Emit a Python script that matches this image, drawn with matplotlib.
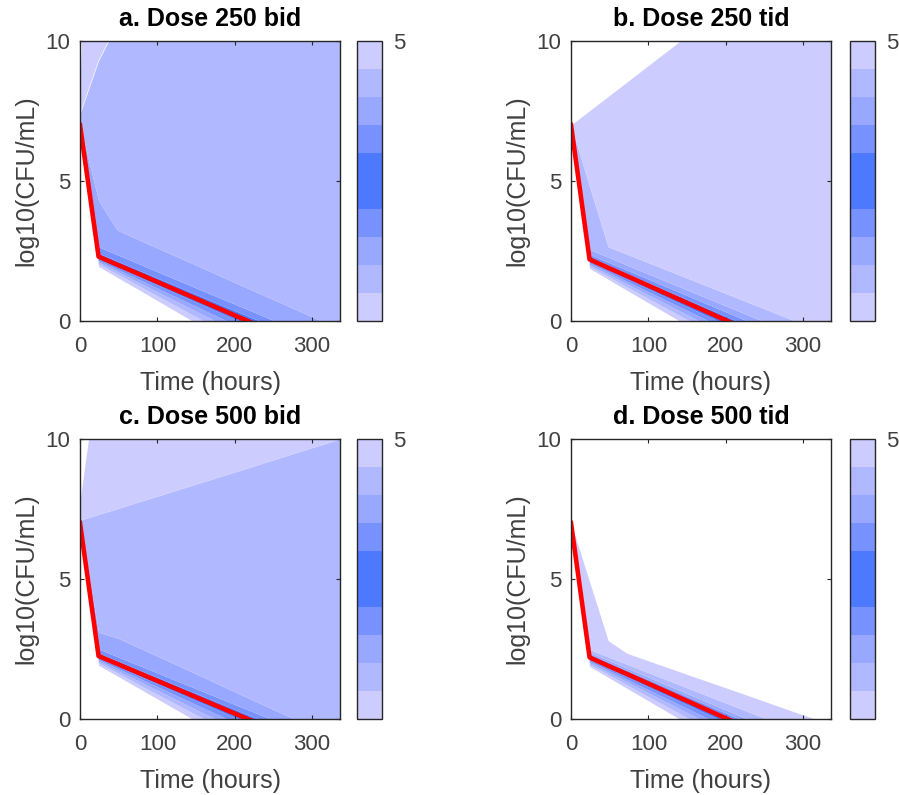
import matplotlib
matplotlib.use("Agg")
import matplotlib.pyplot as plt
from matplotlib.colors import ListedColormap, BoundaryNorm
from matplotlib.cm import ScalarMappable

plt.rcParams['font.family'] = ['Liberation Sans', 'DejaVu Sans']

# sampling times (hours)
times = [0, 24, 48, 72, 144, 216, 288, 336]

# quantile curves of log10(CFU/mL), rows = 0%,10%,...,100%
dose_250_bid = [
    [7, 1.95, 1.56, 1.18, 0.02, -1.14, -2.31, -3.08],
    [7, 2.04, 1.68, 1.32, 0.24, -0.84, -1.92, -2.64],
    [7, 2.10, 1.77, 1.43, 0.43, -0.57, -1.57, -2.24],
    [7, 2.16, 1.85, 1.54, 0.60, -0.34, -1.27, -1.90],
    [7, 2.22, 1.93, 1.63, 0.75, -0.13, -1.02, -1.60],
    [7, 2.30, 2.01, 1.73, 0.87, 0.01, -0.85, -1.42],
    [7, 2.42, 2.14, 1.86, 1.02, 0.19, -0.65, -1.21],
    [7, 2.65, 2.37, 2.09, 1.25, 0.42, -0.42, -0.98],
    [7, 4.30, 3.25, 2.95, 2.07, 1.18, 0.30, -0.30],
    [7.4, 9.3, 10.6, 12.0, 14.0, 16.0, 18.0, 20.0],
    [8.0, 25.0, 30.0, 32.0, 34.0, 36.0, 38.0, 40.0],
]
dose_250_tid = [
    [7, 1.88, 1.49, 1.10, -0.06, -1.23, -2.40, -3.18],
    [7, 1.95, 1.59, 1.22, 0.14, -0.95, -2.04, -2.77],
    [7, 2.01, 1.67, 1.33, 0.31, -0.71, -1.73, -2.41],
    [7, 2.07, 1.75, 1.42, 0.46, -0.51, -1.48, -2.12],
    [7, 2.13, 1.82, 1.51, 0.59, -0.33, -1.26, -1.87],
    [7, 2.20, 1.90, 1.61, 0.72, -0.17, -1.06, -1.66],
    [7, 2.28, 1.99, 1.70, 0.84, -0.02, -0.89, -1.46],
    [7, 2.38, 2.10, 1.82, 0.98, 0.14, -0.70, -1.26],
    [7, 2.55, 2.28, 2.00, 1.18, 0.36, -0.46, -1.00],
    [7, 4.80, 2.65, 2.39, 1.60, 0.81, 0.02, -0.50],
    [7, 7.51, 8.02, 8.53, 10.06, 11.6, 13.1, 14.1],
]
dose_500_bid = [
    [7, 1.92, 1.54, 1.16, 0.02, -1.13, -2.27, -3.03],
    [7, 2.00, 1.65, 1.29, 0.24, -0.82, -1.88, -2.59],
    [7, 2.06, 1.73, 1.41, 0.42, -0.56, -1.54, -2.20],
    [7, 2.12, 1.81, 1.51, 0.59, -0.33, -1.25, -1.86],
    [7, 2.18, 1.89, 1.60, 0.73, -0.13, -1.00, -1.58],
    [7, 2.25, 1.97, 1.69, 0.85, 0.01, -0.83, -1.38],
    [7, 2.35, 2.08, 1.80, 0.98, 0.16, -0.66, -1.21],
    [7, 2.50, 2.23, 1.96, 1.15, 0.34, -0.47, -1.01],
    [7, 3.10, 2.90, 2.60, 1.69, 0.77, -0.14, -0.75],
    [7.1, 7.31, 7.51, 7.72, 8.34, 8.96, 9.59, 10.0],
    [7.8, 12.6, 15.0, 17.0, 20.0, 22.0, 24.0, 25.0],
]
dose_500_tid = [
    [7, 1.88, 1.49, 1.10, -0.06, -1.23, -2.40, -3.18],
    [7, 1.95, 1.59, 1.22, 0.14, -0.95, -2.04, -2.77],
    [7, 2.01, 1.67, 1.33, 0.31, -0.71, -1.73, -2.41],
    [7, 2.07, 1.75, 1.42, 0.46, -0.51, -1.48, -2.12],
    [7, 2.13, 1.82, 1.51, 0.59, -0.33, -1.26, -1.87],
    [7, 2.20, 1.90, 1.61, 0.72, -0.17, -1.06, -1.66],
    [7, 2.26, 1.96, 1.67, 0.79, -0.08, -0.96, -1.54],
    [7, 2.32, 2.03, 1.74, 0.88, 0.02, -0.84, -1.41],
    [7, 2.38, 2.10, 1.82, 0.98, 0.14, -0.70, -1.26],
    [7, 2.48, 2.22, 1.96, 1.18, 0.40, -0.38, -0.90],
    [7, 4.90, 2.80, 2.35, 1.65, 0.96, 0.26, -0.20],
]

titles = ['a. Dose 250 bid', 'b. Dose 250 tid', 'c. Dose 500 bid', 'd. Dose 500 tid']
panels = [dose_250_bid, dose_250_tid, dose_500_bid, dose_500_tid]

# band colours, outer -> inner
shades = ['#ccccff', '#b0b9ff', '#98a7ff', '#7791ff', '#4d79ff']
band_colors = shades + shades[::-1]

W, H = 899, 795
fig = plt.figure(figsize=(W / 100, H / 100), dpi=100)

ax_boxes = [(80, 41), (571, 41), (80, 439), (571, 439)]
cb_left = [357, 850, 357, 850]
axw, axh = 260, 280
dark = '#262626'

for i, (qs, title) in enumerate(zip(panels, titles)):
    x0, y0 = ax_boxes[i]
    ax = fig.add_axes([x0 / W, (H - y0 - axh) / H, axw / W, axh / H])
    for k in range(10):
        ax.fill_between(times, qs[k], qs[k + 1], color=band_colors[k],
                        linewidth=0)
    ax.plot(times, qs[5], color='red', linewidth=3.3)
    ax.set_xlim(0, 336)
    ax.set_ylim(0, 10)
    ax.set_xticks([0, 100, 200, 300])
    ax.set_yticks([0, 5, 10])
    ax.tick_params(direction='in', length=3, width=0.8, top=True, right=True,
                   labelsize=16, colors=dark, labelcolor='#404040')
    ax.tick_params(axis='x', pad=11)
    ax.tick_params(axis='y', pad=7)
    for s in ax.spines.values():
        s.set_color(dark)
        s.set_linewidth(1)
    ax.set_xlabel('Time (hours)', fontsize=18, color='#404040', labelpad=10)
    ax.set_ylabel('log10(CFU/mL)', fontsize=18, color='#404040', labelpad=5)
    ax.set_title(title, fontsize=18, fontweight='bold', pad=11)

    cax = fig.add_axes([cb_left[i] / W, (H - y0 - axh) / H, 25 / W, axh / H])
    cmap = ListedColormap(band_colors[::-1])
    norm = BoundaryNorm(list(range(11)), cmap.N)
    cb = fig.colorbar(ScalarMappable(norm=norm, cmap=cmap), cax=cax, ticks=[10])
    cb.set_ticklabels(['5'])
    cb.ax.minorticks_off()
    cb.ax.tick_params(which='both', length=0, labelsize=16,
                      labelcolor='#404040', pad=8)
    cb.outline.set_edgecolor(dark)
    cb.outline.set_linewidth(1)

fig.savefig('out.png', dpi=100)
